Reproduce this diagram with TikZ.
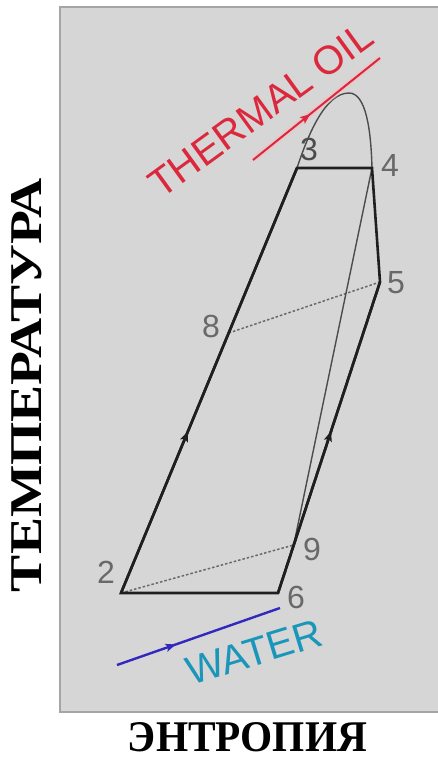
\documentclass[tikz,border=0pt]{standalone}
\usepackage{fontspec}
\usepackage{graphicx}
\setmainfont{Liberation Serif}
\newfontfamily\lsans{Liberation Sans}
\usetikzlibrary{arrows.meta,decorations.markings}
\definecolor{panelfill}{RGB}{214,214,214}
\definecolor{panelline}{RGB}{165,165,165}
\definecolor{lblgray}{RGB}{105,105,105}
\definecolor{oilred}{RGB}{220,40,60}
\definecolor{waterblue}{RGB}{50,40,190}
\definecolor{watercyan}{RGB}{25,150,185}
\tikzset{
  midarrow/.style={postaction={decorate},decoration={markings,mark=at position #1 with {\arrow{Stealth[length=10pt,width=8pt,inset=2pt]}}}},
  thickline/.style={draw=black!88,line width=2.6pt,line join=miter},
  thinline/.style={draw=black!70,line width=1.4pt},
  dashline/.style={draw=lblgray,line width=1.5pt,dash pattern=on 2.5pt off 2pt},
  numlbl/.style={text=lblgray,font=\lsans\fontsize{32}{32}\selectfont,inner sep=0pt},
  axislbl/.style={text=black,inner sep=0pt}
}
\begin{document}
\begin{tikzpicture}[x=1pt,y=-1pt]
\useasboundingbox (0,0) rectangle (437,758);
\fill[white] (0,0) rectangle (437,758);
\draw[draw=panelline,fill=panelfill,line width=1.5pt] (60,7) rectangle (450,712);

% points
\coordinate (p2) at (121,593);
\coordinate (p3) at (297,168);
\coordinate (p4) at (372,168);
\coordinate (p5) at (380,282);
\coordinate (p6) at (278,593);
\coordinate (p8) at (228.7,333);
\coordinate (p9) at (293.7,545);
\coordinate (top) at (349,93);
\coordinate (r1) at (253,160);
\coordinate (r2) at (380,58);
\coordinate (w1) at (117,665);
\coordinate (w2) at (280,608);

% dashed lines
\draw[dashline] (p8) -- (p5);
\draw[dashline] (p2) -- (p9);

% thin line and dome
\draw[thinline] (p4) -- (p9);
\draw[thinline] (p3) .. controls (308,135) and (325,93) .. (top) .. controls (366,93) and (371,130) .. (p4);

% cycle
\draw[thickline] (p2) -- (p3) -- (p4) -- (p5) -- (p6) -- cycle;
\draw[thickline,midarrow=0.38] (p2) -- (p3);
\draw[thickline,midarrow=0.52] (p6) -- (p5);

% thermal oil and water lines
\draw[oilred!30,line width=6pt,opacity=0.5] (r1) -- (r2);
\draw[oilred,line width=2pt,midarrow=0.45] (r1) -- (r2);
\draw[waterblue,line width=2.4pt,midarrow=0.36] (w1) -- (w2);

\node[text=oilred,font=\lsans\fontsize{40}{40}\selectfont,inner sep=0pt,rotate=36] (oil) at (261,110) {THERMAL OIL};
\node[text=watercyan,font=\lsans\fontsize{40}{40}\selectfont,inner sep=0pt,rotate=17] (water) at (254,652) {WATER};

% point labels
\node[numlbl] (l2) at (106,572) {2};
\node[numlbl,text=black!70] (l3) at (309,149) {3};
\node[numlbl] (l4) at (390,165) {4};
\node[numlbl] (l5) at (396,283) {5};
\node[numlbl] (l6) at (296,597) {6};
\node[numlbl] (l8) at (211,326) {8};
\node[numlbl] (l9) at (312,549) {9};

% axis labels
\node[axislbl,rotate=90] (ylab) at (27,385) {\resizebox{414pt}{30pt}{\bfseries ТЕМПЕРАТУРА}};
\node[axislbl] (xlab) at (247.5,737) {\resizebox{239pt}{29pt}{\bfseries ЭНТРОПИЯ}};
\end{tikzpicture}
\end{document}
